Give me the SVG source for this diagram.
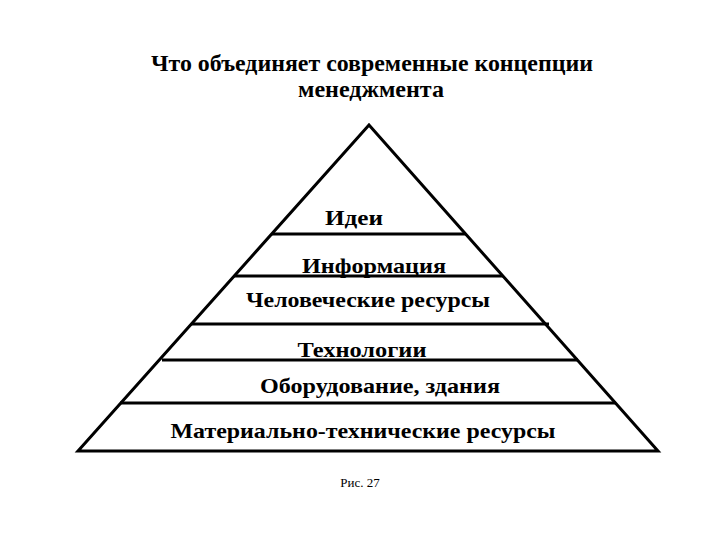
<svg xmlns="http://www.w3.org/2000/svg" width="720" height="540" viewBox="0 0 720 540">
<style>
.t{font-family:"Liberation Serif","Times New Roman",serif;font-weight:bold;fill:#000;text-anchor:middle}
.l{font-size:22px}
.h{font-size:24px}
.ln{stroke:#000;stroke-width:3;fill:none}
</style>
<rect width="720" height="540" fill="#fff"/>
<g id="title">
<text class="t h" x="372" y="71" textLength="442" lengthAdjust="spacingAndGlyphs">Что объединяет современные концепции</text>
<text class="t h" x="371" y="97" textLength="146" lengthAdjust="spacingAndGlyphs">менеджмента</text>
</g>
<g id="connectors">
<polygon class="ln" points="369,125 78,451 658,451" stroke-linejoin="miter"/>
<line class="ln" x1="272" y1="234" x2="466" y2="234"/>
<line class="ln" x1="234" y1="276" x2="503" y2="276"/>
<line class="ln" x1="191" y1="324" x2="549" y2="324"/>
<line class="ln" x1="162" y1="360" x2="578" y2="360"/>
<line class="ln" x1="120" y1="403" x2="616" y2="403"/>
</g>
<g id="ideas"><text class="t l" x="354" y="225" textLength="58" lengthAdjust="spacingAndGlyphs">Идеи</text></g>
<g id="information"><text class="t l" x="374" y="273" textLength="144" lengthAdjust="spacingAndGlyphs">Информация</text></g>
<g id="human"><text class="t l" x="368" y="307" textLength="244" lengthAdjust="spacingAndGlyphs">Человеческие ресурсы</text></g>
<g id="technology"><text class="t l" x="362" y="357" textLength="129" lengthAdjust="spacingAndGlyphs">Технологии</text></g>
<g id="equipment"><text class="t l" x="380" y="393" textLength="240" lengthAdjust="spacingAndGlyphs">Оборудование, здания</text></g>
<g id="material"><text class="t l" x="363" y="438" textLength="385" lengthAdjust="spacingAndGlyphs">Материально-технические ресурсы</text></g>
<g id="caption"><text x="360" y="487" font-family="Liberation Serif, serif" font-size="13" text-anchor="middle">Рис. 27</text></g>
</svg>
